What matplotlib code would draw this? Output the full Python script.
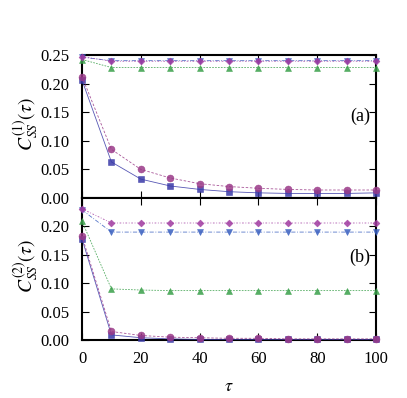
import numpy as np
import matplotlib.pyplot as plt

plt.rcParams['font.family'] = ['Liberation Serif', 'DejaVu Serif']
plt.rcParams['mathtext.fontset'] = 'stix'

tau = [0, 10, 20, 30, 40, 50, 60, 70, 80, 90, 100]

# panel (a)
a_sq = [0.206, 0.063, 0.033, 0.021, 0.015, 0.011, 0.009, 0.008, 0.008, 0.008, 0.009]
a_ci = [0.212, 0.085, 0.050, 0.035, 0.025, 0.020, 0.017, 0.015, 0.014, 0.014, 0.014]
a_tr = [0.242, 0.228, 0.228, 0.228, 0.228, 0.228, 0.228, 0.228, 0.228, 0.228, 0.228]
a_dt = [0.246, 0.240, 0.240, 0.240, 0.240, 0.240, 0.240, 0.240, 0.240, 0.240, 0.240]
a_di = [0.247, 0.239, 0.239, 0.239, 0.239, 0.239, 0.239, 0.239, 0.239, 0.239, 0.239]

# panel (b)
b_sq = [0.178, 0.009, 0.004, 0.002, 0.001, 0.001, 0.001, 0.001, 0.001, 0.001, 0.001]
b_ci = [0.183, 0.015, 0.008, 0.005, 0.004, 0.003, 0.003, 0.002, 0.002, 0.002, 0.002]
b_tr = [0.209, 0.090, 0.088, 0.087, 0.087, 0.087, 0.087, 0.087, 0.087, 0.087, 0.087]
b_dt = [0.229, 0.190, 0.190, 0.190, 0.190, 0.190, 0.190, 0.190, 0.190, 0.190, 0.190]
b_di = [0.231, 0.206, 0.206, 0.206, 0.206, 0.206, 0.206, 0.206, 0.206, 0.206, 0.206]

styles = [
    ("s", "#3a3aa8", "-", 4.5),
    ("o", "#9a3a88", (0, (3, 2)), 5),
    ("^", "#3aa04a", (0, (2, 1.5)), 4.5),
    ("v", "#3a60c0", (0, (5, 2, 1, 2)), 4.5),
    ("D", "#a03aa0", (0, (2, 2, 1, 2)), 3.5),
]

fig = plt.figure(figsize=(4.07, 3.98), dpi=100)
ax1 = fig.add_axes([0.2015, 0.5025, 0.7225, 0.3595])
ax2 = fig.add_axes([0.2015, 0.1457, 0.7225, 0.3568])

for ax, series in [(ax1, [a_sq, a_ci, a_tr, a_dt, a_di]),
                   (ax2, [b_sq, b_ci, b_tr, b_dt, b_di])]:
    for ys, (m, c, ls, ms) in zip(series, styles):
        ax.plot(tau, ys, color=c, linestyle=ls, linewidth=0.6, marker=m,
                markersize=ms, markeredgewidth=0.4, alpha=0.85, clip_on=False, zorder=3)
    ax.set_xlim(0, 100)
    ax.set_ylim(0, 0.25)
    ax.set_xticks(range(0, 101, 20))
    ax.tick_params(direction='in', top=True, right=True, labelsize=12, length=5, width=0.8)
    ax.tick_params(axis='y', pad=9)
    ax.tick_params(axis='x', pad=8)
    for sp in ax.spines.values():
        sp.set_linewidth(1.5)

ax1.set_yticks(np.arange(0, 0.26, 0.05))
ax1.set_yticklabels(["%.2f" % v for v in np.arange(0, 0.26, 0.05)])
ax1.set_xticklabels([])
ax2.set_yticks(np.arange(0, 0.21, 0.05))
ax2.set_yticklabels(["%.2f" % v for v in np.arange(0, 0.21, 0.05)])

ax1.set_ylabel(r"$C^{(1)}_{SS}(\tau)$", fontsize=14)
ax2.set_ylabel(r"$C^{(2)}_{SS}(\tau)$", fontsize=14)
ax1.yaxis.set_label_coords(-0.14, 0.52)
ax2.yaxis.set_label_coords(-0.14, 0.52)
ax2.set_xlabel(r"$\tau$", fontsize=13, labelpad=8)

ax1.text(0.945, 0.57, "(a)", transform=ax1.transAxes, fontsize=13, ha='center', va='center')
ax2.text(0.945, 0.585, "(b)", transform=ax2.transAxes, fontsize=13, ha='center', va='center')

fig.savefig("out.png", dpi=100)
